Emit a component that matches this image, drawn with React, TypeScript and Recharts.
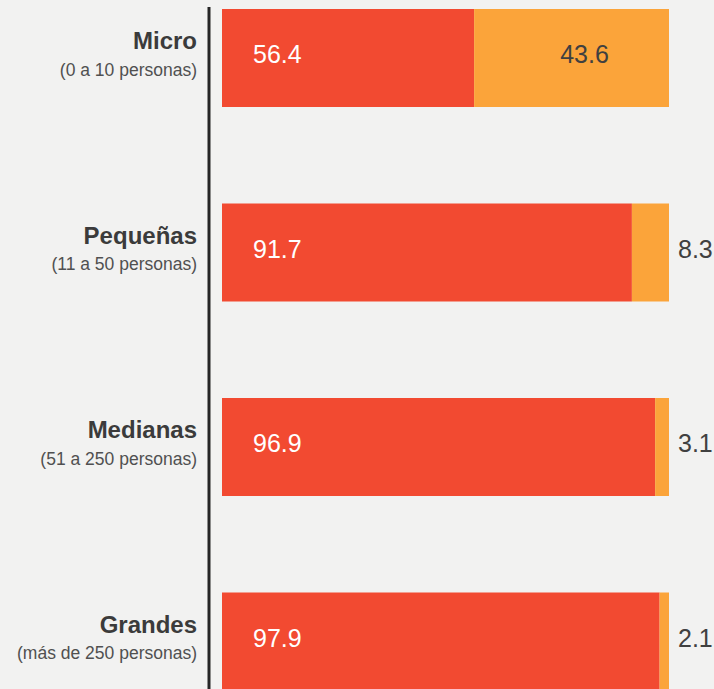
import { BarChart, Bar, XAxis, YAxis, LabelList } from "recharts";

const categories = ["Micro", "Pequeñas", "Medianas", "Grandes"];
const subtitles = [
	"(0 a 10 personas)",
	"(11 a 50 personas)",
	"(51 a 250 personas)",
	"(más de 250 personas)",
];
const redValues = [56.4, 91.7, 96.9, 97.9];
const orangeValues = [43.6, 8.3, 3.1, 2.1];

const data = categories.map((name, i) => ({
	name,
	subtitle: subtitles[i],
	red: redValues[i],
	orange: orangeValues[i],
}));

const FONT = '"Liberation Sans", Arial, Helvetica, sans-serif';

const CategoryTick = (props: any) => {
	const { x, y, payload, index } = props;
	return (
		<g>
			<text
				x={x - 4}
				y={y - 9}
				textAnchor="end"
				fontSize={24}
				fontWeight="bold"
				fill="#3b3b3b"
				fontFamily={FONT}
			>
				{payload.value}
			</text>
			<text
				x={x - 4}
				y={y + 17.5}
				textAnchor="end"
				fontSize={17.5}
				fill="#505050"
				fontFamily={FONT}
			>
				{subtitles[index]}
			</text>
		</g>
	);
};

const redLabel = (props: any) => {
	const { x, y, height, value } = props;
	return (
		<text
			x={x + 31}
			y={y + height / 2 + 5}
			fill="#ffffff"
			fontSize={25}
			fontFamily={FONT}
		>
			{value}
		</text>
	);
};

const orangeLabel = (props: any) => {
	const { x, y, width, height, value } = props;
	const inside = width > 60;
	return (
		<text
			x={inside ? x + width / 2 + 13 : x + width + 9}
			y={y + height / 2 + 5}
			textAnchor={inside ? "middle" : "start"}
			fill="#404040"
			fontSize={25}
			fontFamily={FONT}
		>
			{value}
		</text>
	);
};

export default function App() {
	return (
		<div
			style={{
				position: "absolute",
				left: 0,
				top: 0,
				width: 714,
				height: 689,
				background: "#f2f2f1",
				overflow: "hidden",
			}}
		>
			<BarChart
				width={714}
				height={689}
				data={data}
				layout="vertical"
				margin={{ top: 7, right: 0, left: 0, bottom: 0 }}
				barSize={98}
			>
				<XAxis
					type="number"
					domain={[0, 100]}
					hide
					padding={{ left: 13, right: 45 }}
				/>
				<YAxis
					type="category"
					dataKey="name"
					width={209}
					interval={0}
					tickLine={false}
					axisLine={{ stroke: "#262626", strokeWidth: 3 }}
					tick={<CategoryTick />}
					padding={{ top: -46, bottom: -50 }}
				/>
				<Bar
					dataKey="red"
					stackId="a"
					fill="#f24a31"
					isAnimationActive={false}
				>
					<LabelList dataKey="red" content={redLabel} />
				</Bar>
				<Bar
					dataKey="orange"
					stackId="a"
					fill="#fba43a"
					isAnimationActive={false}
				>
					<LabelList dataKey="orange" content={orangeLabel} />
				</Bar>
			</BarChart>
		</div>
	);
}
